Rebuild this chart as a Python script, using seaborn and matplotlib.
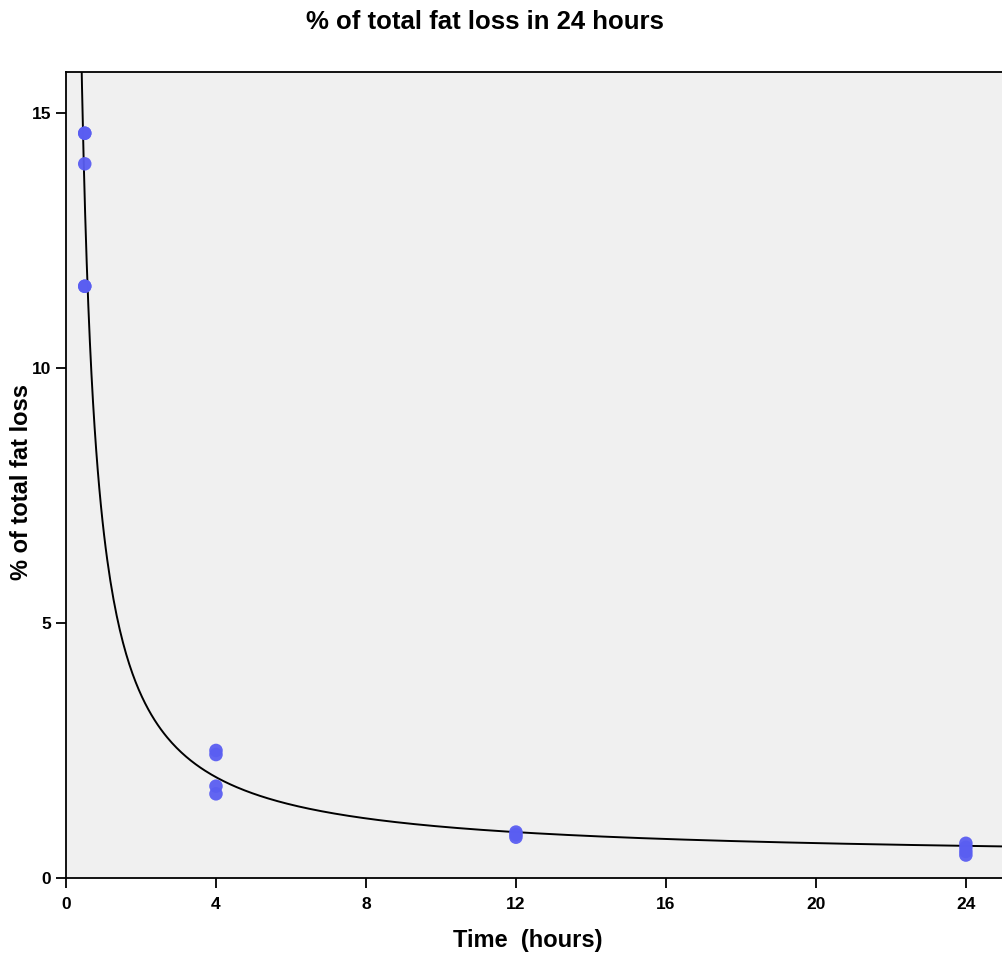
import numpy as np
import pandas as pd
import matplotlib
matplotlib.use('Agg')
import matplotlib.pyplot as plt
import seaborn as sns

# observed values (hours, % of total fat loss)
time_h = [0.5, 0.5, 0.5, 0.5, 0.5,
          4, 4, 4, 4,
          12, 12, 12,
          24, 24, 24, 24]
fat_loss = [14.6, 14.6, 14.0, 11.6, 11.6,
            2.5, 2.42, 1.8, 1.65,
            0.9, 0.85, 0.8,
            0.68, 0.6, 0.52, 0.45]
xticks = [0, 4, 8, 12, 16, 20, 24]
yticks = [0, 5, 10, 15]

df = pd.DataFrame({"time": time_h, "loss": fat_loss})

# inverse model fit y = b0 + b1/x
A = np.column_stack([np.ones(len(df)), 1.0 / df["time"].values])
b0, b1 = np.linalg.lstsq(A, df["loss"].values, rcond=None)[0]
xs = np.linspace(0.3, 25.5, 600)
fit = pd.DataFrame({"time": xs, "loss": b0 + b1 / xs})

sns.set_style("ticks")
plt.rcParams['font.family'] = ['Liberation Sans', 'DejaVu Sans']
plt.rcParams['text.color'] = 'black'
plt.rcParams['axes.labelcolor'] = 'black'

f = plt.figure(figsize=(10.03, 9.56), dpi=100)
ax = f.add_axes([66 / 1003, 78 / 956, 940 / 1003, 806 / 956])
ax.set_facecolor('#f0f0f0')

sns.lineplot(data=fit, x="time", y="loss", ax=ax, color='black', linewidth=1.4)
sns.scatterplot(data=df, x="time", y="loss", ax=ax, color='#5a5ef2', s=95,
                edgecolor='none', alpha=0.95, zorder=3)

ax.set_xlim(0, 25.07)
ax.set_ylim(0, 15.8)
ax.set_xticks(xticks)
ax.set_yticks(yticks)
ax.tick_params(length=7.5, width=1.3, labelsize=12.5, colors='black')
ax.tick_params(axis='x', pad=6)
ax.tick_params(axis='y', pad=3)
for lab in ax.get_xticklabels() + ax.get_yticklabels():
    lab.set_fontweight('bold')
for s in ax.spines.values():
    s.set_linewidth(1.3)
    s.set_color('black')

ax.set_xlabel("Time  (hours)", fontsize=17, fontweight='bold')
ax.set_ylabel("% of total fat loss", fontsize=17, fontweight='bold')
ax.xaxis.set_label_coords((528 - 66) / 940, (878 - 941) / 806)
ax.yaxis.set_label_coords((22 - 66) / 940, (878 - 482) / 806)
ax.xaxis.label.set_va('center')
ax.yaxis.label.set_va('center')
f.text(485 / 1003, 1 - 22 / 956, "% of total fat loss in 24 hours",
       ha='center', va='center', fontsize=18.5, fontweight='bold')

f.savefig("out.png", dpi=100)
